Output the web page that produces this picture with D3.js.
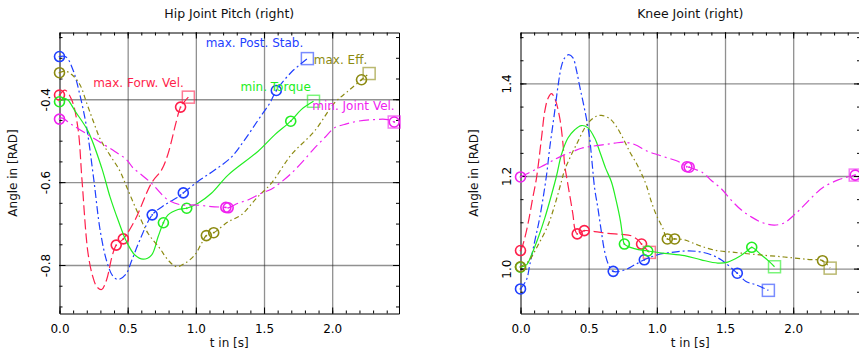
<!DOCTYPE html>
<html>
<head>
<meta charset="utf-8">
<script src="https://cdn.jsdelivr.net/npm/d3@7"></script>
<style>
body { margin: 0; background: #fff; }
text { font-family: "DejaVu Sans", sans-serif; }
</style>
</head>
<body>
<div id="chart"></div>
<script>
//tick labels for both panels
var timeTicks = [0.0, 0.5, 1.0, 1.5, 2.0];
var hipTicks = [-0.8, -0.6, -0.4];
var kneeTicks = [1.0, 1.2, 1.4];

var seriesNames = ["max. Forw. Vel.", "max. Post. Stab.", "min. Torque", "max. Eff.", "min. Joint Vel."];

//times of the circle markers (start, two mid phases, last) for each series
var forwVelMarks = [0, 0.416, 0.468, 0.888];
var postStabMarks = [0, 0.68, 0.908, 1.59];
var torqueMarks = [0, 0.762, 0.933, 1.696];
var effMarks = [0, 1.077, 1.131, 2.215];
var jointVelMarks = [0, 1.22, 1.237, 2.455];

//hip joint pitch, [t, angle]
var hipForwVel = [[0,-0.390],[0.04,-0.378],[0.09,-0.402],[0.135,-0.469],[0.165,-0.595],[0.209,-0.771],[0.245,-0.829],[0.275,-0.853],[0.309,-0.859],[0.345,-0.836],[0.384,-0.781],[0.416,-0.752],[0.468,-0.737],[0.553,-0.692],[0.675,-0.602],[0.748,-0.571],[0.794,-0.534],[0.858,-0.452],[0.888,-0.419],[0.945,-0.395]];
var hipPostStab = [[0,-0.297],[0.048,-0.298],[0.1,-0.33],[0.15,-0.39],[0.2,-0.47],[0.25,-0.59],[0.3,-0.72],[0.35,-0.795],[0.39,-0.826],[0.43,-0.835],[0.487,-0.822],[0.531,-0.788],[0.589,-0.74],[0.68,-0.679],[0.772,-0.655],[0.86,-0.638],[0.908,-0.626],[1.029,-0.595],[1.138,-0.571],[1.263,-0.539],[1.358,-0.498],[1.482,-0.438],[1.54,-0.411],[1.59,-0.379],[1.7,-0.335],[1.818,-0.302]];
var hipTorque = [[0,-0.406],[0.033,-0.398],[0.062,-0.402],[0.113,-0.428],[0.209,-0.477],[0.309,-0.565],[0.37,-0.635],[0.43,-0.692],[0.492,-0.744],[0.553,-0.776],[0.613,-0.786],[0.675,-0.776],[0.723,-0.732],[0.762,-0.698],[0.796,-0.679],[0.87,-0.666],[0.933,-0.663],[1.016,-0.651],[1.114,-0.627],[1.236,-0.583],[1.455,-0.526],[1.578,-0.486],[1.696,-0.453],[1.773,-0.425],[1.863,-0.405]];
var hipEff = [[0,-0.336],[0.04,-0.332],[0.092,-0.341],[0.15,-0.365],[0.2,-0.41],[0.25,-0.455],[0.3,-0.497],[0.37,-0.535],[0.443,-0.573],[0.492,-0.611],[0.565,-0.667],[0.65,-0.724],[0.736,-0.76],[0.796,-0.788],[0.858,-0.804],[0.919,-0.796],[0.992,-0.776],[1.041,-0.748],[1.077,-0.729],[1.131,-0.722],[1.236,-0.696],[1.334,-0.679],[1.444,-0.639],[1.553,-0.603],[1.7,-0.534],[1.87,-0.477],[2.017,-0.409],[2.114,-0.381],[2.215,-0.353],[2.271,-0.338]];
var hipJointVel = [[0,-0.448],[0.016,-0.445],[0.089,-0.461],[0.211,-0.486],[0.284,-0.501],[0.406,-0.526],[0.492,-0.546],[0.54,-0.566],[0.589,-0.579],[0.675,-0.603],[0.796,-0.643],[0.895,-0.655],[0.992,-0.655],[1.114,-0.659],[1.22,-0.661],[1.237,-0.662],[1.309,-0.651],[1.382,-0.643],[1.48,-0.627],[1.553,-0.617],[1.614,-0.603],[1.7,-0.579],[1.785,-0.55],[1.87,-0.518],[1.944,-0.493],[2.017,-0.469],[2.09,-0.461],[2.187,-0.453],[2.31,-0.449],[2.407,-0.449],[2.455,-0.455]];

//knee joint, [t, angle]
var kneeForwVel = [[0,1.039],[0.017,1.051],[0.053,1.094],[0.09,1.153],[0.117,1.195],[0.154,1.282],[0.178,1.34],[0.202,1.368],[0.227,1.378],[0.251,1.368],[0.288,1.325],[0.312,1.268],[0.324,1.224],[0.348,1.181],[0.385,1.116],[0.398,1.087],[0.416,1.075],[0.468,1.082],[0.544,1.08],[0.641,1.076],[0.739,1.074],[0.813,1.071],[0.861,1.062],[0.888,1.053],[0.945,1.035]];
var kneePostStab = [[0,0.956],[0.044,0.976],[0.068,1.008],[0.105,1.06],[0.141,1.11],[0.19,1.2],[0.214,1.26],[0.251,1.34],[0.275,1.394],[0.3,1.437],[0.324,1.455],[0.354,1.462],[0.385,1.455],[0.41,1.429],[0.434,1.394],[0.458,1.361],[0.483,1.325],[0.507,1.282],[0.524,1.232],[0.544,1.173],[0.568,1.13],[0.593,1.08],[0.617,1.037],[0.646,1.008],[0.68,0.994],[0.763,0.997],[0.836,1.008],[0.908,1.019],[1.007,1.03],[1.105,1.035],[1.203,1.038],[1.3,1.037],[1.398,1.03],[1.471,1.019],[1.59,0.99],[1.654,0.972],[1.728,0.965],[1.818,0.953]];
var kneeTorque = [[0,1.003],[0.044,1.008],[0.081,1.03],[0.129,1.066],[0.178,1.109],[0.227,1.159],[0.264,1.2],[0.3,1.246],[0.348,1.282],[0.398,1.3],[0.447,1.309],[0.495,1.304],[0.544,1.282],[0.581,1.253],[0.624,1.217],[0.666,1.188],[0.703,1.145],[0.734,1.101],[0.751,1.066],[0.762,1.053],[0.836,1.043],[0.933,1.038],[1.056,1.033],[1.203,1.028],[1.325,1.019],[1.447,1.012],[1.52,1.014],[1.605,1.026],[1.666,1.039],[1.696,1.046],[1.764,1.03],[1.825,1.015],[1.863,1.004]];
var kneeEff = [[0,1.004],[0.056,1.015],[0.129,1.051],[0.202,1.094],[0.251,1.137],[0.3,1.188],[0.324,1.213],[0.373,1.246],[0.422,1.275],[0.471,1.304],[0.507,1.318],[0.556,1.329],[0.593,1.331],[0.654,1.324],[0.703,1.307],[0.751,1.282],[0.8,1.253],[0.849,1.228],[0.886,1.206],[0.922,1.181],[0.959,1.145],[0.996,1.116],[1.044,1.087],[1.077,1.064],[1.131,1.064],[1.203,1.062],[1.3,1.051],[1.422,1.04],[1.569,1.035],[1.739,1.03],[1.935,1.025],[2.105,1.02],[2.215,1.017],[2.271,1.001]];
var kneeJointVel = [[0,1.198],[0.056,1.206],[0.129,1.217],[0.178,1.224],[0.227,1.232],[0.3,1.243],[0.385,1.253],[0.447,1.26],[0.52,1.264],[0.617,1.268],[0.69,1.271],[0.764,1.273],[0.837,1.268],[0.934,1.253],[1.007,1.246],[1.08,1.239],[1.154,1.232],[1.22,1.22],[1.237,1.219],[1.337,1.207],[1.398,1.191],[1.471,1.173],[1.545,1.148],[1.618,1.127],[1.691,1.112],[1.776,1.099],[1.862,1.094],[1.935,1.099],[2.008,1.116],[2.081,1.137],[2.154,1.159],[2.228,1.177],[2.325,1.191],[2.398,1.198],[2.455,1.202]];

//colours and dash patterns of the five strategies
var colors = ["#ff1f4b", "#1f3fff", "#22ee22", "#8c8a10", "#ef22ef"];
var dashes = ["10,4", "8,3,2,3", null, "5,3,1.5,3", "10,4,2,4"];

//where the names are written inside the hip panel (data units)
var labelAnchors = [[0.247,-0.37],[1.072,-0.274],[1.328,-0.379],[1.865,-0.314],[1.854,-0.425]];

var series = [
	{hip: hipForwVel, knee: kneeForwVel, marks: forwVelMarks},
	{hip: hipPostStab, knee: kneePostStab, marks: postStabMarks},
	{hip: hipTorque, knee: kneeTorque, marks: torqueMarks},
	{hip: hipEff, knee: kneeEff, marks: effMarks},
	{hip: hipJointVel, knee: kneeJointVel, marks: jointVelMarks}
];

var w = 859,
    h = 354;

var plotTop = 32.5,
    plotBottom = 313.5,
    pw = 339.5;

var svg = d3.select("#chart").append("svg")
    .attr("width", w)
    .attr("height", h);

function drawPanel(x0, title, key, yDomain, yTicks, yMinor, withLabels) {
	var x = d3.scaleLinear().domain([0, 2.49]).range([x0, x0 + pw]);
	var y = d3.scaleLinear().domain(yDomain).range([plotBottom, plotTop]);
	var g = svg.append("g");

	//grid lines at the major ticks
	var grid = g.append("g");
	grid.append("g")
		.attr("transform", "translate(0," + plotBottom + ")")
		.call(d3.axisBottom(x).tickValues(timeTicks.slice(1)).tickSize(-(plotBottom - plotTop)).tickFormat(""))
		.call(function(s) { s.select(".domain").remove(); });
	grid.append("g")
		.attr("transform", "translate(" + x0 + ",0)")
		.call(d3.axisLeft(y).tickValues(yTicks).tickSize(-pw).tickFormat(""))
		.call(function(s) { s.select(".domain").remove(); });
	grid.selectAll(".tick line")
		.attr("stroke", "#222")
		.attr("stroke-width", 1.3)
		.attr("stroke-dasharray", "1,1");

	//minor ticks, all four sides, pointing in
	var xMinor = d3.range(0, 2.49, 0.1);
	var minor = [
		[d3.axisBottom(x).tickValues(xMinor), "translate(0," + plotBottom + ")"],
		[d3.axisTop(x).tickValues(xMinor), "translate(0," + plotTop + ")"],
		[d3.axisLeft(y).tickValues(yMinor), "translate(" + x0 + ",0)"],
		[d3.axisRight(y).tickValues(yMinor), "translate(" + (x0 + pw) + ",0)"]
	];
	minor.forEach(function(m) {
		g.append("g")
			.attr("transform", m[1])
			.call(m[0].tickSizeInner(-3).tickSizeOuter(0).tickFormat(""))
			.call(function(s) { s.select(".domain").remove(); });
	});

	//major ticks with labels and the frame
	var xb = g.append("g")
		.attr("transform", "translate(0," + plotBottom + ")")
		.call(d3.axisBottom(x).tickValues(timeTicks).tickSizeInner(-6).tickSizeOuter(0).tickPadding(11).tickFormat(d3.format(".1f")));
	g.append("g")
		.attr("transform", "translate(0," + plotTop + ")")
		.call(d3.axisTop(x).tickValues(timeTicks).tickSizeInner(-6).tickSizeOuter(0).tickFormat(""));
	var yl = g.append("g")
		.attr("transform", "translate(" + x0 + ",0)")
		.call(d3.axisLeft(y).tickValues(yTicks).tickSizeInner(-6).tickSizeOuter(0).tickFormat(d3.format(".1f")));
	g.append("g")
		.attr("transform", "translate(" + (x0 + pw) + ",0)")
		.call(d3.axisRight(y).tickValues(yTicks).tickSizeInner(-6).tickSizeOuter(0).tickFormat(""));

	g.selectAll(".domain").attr("stroke", "#000").attr("stroke-width", 1);
	xb.selectAll("text")
		.attr("font-size", 12)
		.attr("fill", "#000");
	yl.selectAll("text")
		.attr("font-size", 12)
		.attr("fill", "#000")
		.attr("text-anchor", "middle")
		.attr("transform", "rotate(-90)")
		.attr("x", 0)
		.attr("y", -9.5)
		.attr("dy", 0)
		.text(function(d) { return d3.format(".1f")(d).replace("\u2212", "-"); });

	//titles
	g.append("text")
		.text(title)
		.attr("x", x0 + pw / 2)
		.attr("y", 18)
		.attr("text-anchor", "middle")
		.attr("font-size", 12.5)
		.attr("fill", "#111");
	g.append("text")
		.text("t in [s]")
		.attr("x", x0 + pw / 2)
		.attr("y", 347)
		.attr("text-anchor", "middle")
		.attr("font-size", 12)
		.attr("fill", "#111");
	g.append("text")
		.text("Angle in [RAD]")
		.attr("transform", "translate(" + (x0 - 43) + "," + ((plotTop + plotBottom) / 2) + ") rotate(-90)")
		.attr("text-anchor", "middle")
		.attr("font-size", 12)
		.attr("fill", "#111");

	var line = d3.line()
		.x(function(d) { return x(d[0]); })
		.y(function(d) { return y(d[1]); })
		.curve(d3.curveCatmullRom.alpha(0.5));

	series.forEach(function(s, i) {
		var pts = s[key];
		g.append("path")
			.datum(pts)
			.attr("d", line)
			.attr("fill", "none")
			.attr("stroke", colors[i])
			.attr("stroke-width", 1.2)
			.attr("stroke-dasharray", dashes[i]);

		//circles at the phase changes
		var marks = s.marks.map(function(t) { return pts.find(function(p) { return p[0] === t; }); });
		g.selectAll(null)
			.data(marks)
			.enter().append("circle")
			.attr("cx", function(d) { return x(d[0]); })
			.attr("cy", function(d) { return y(d[1]); })
			.attr("r", 5)
			.attr("fill", "none")
			.attr("stroke", colors[i])
			.attr("stroke-width", 1.6);
		g.selectAll(null)
			.data(marks)
			.enter().append("circle")
			.attr("cx", function(d) { return x(d[0]); })
			.attr("cy", function(d) { return y(d[1]); })
			.attr("r", 0.9)
			.attr("fill", colors[i]);

		//square at the final state
		var last = pts[pts.length - 1];
		g.append("rect")
			.attr("x", x(last[0]) - 6)
			.attr("y", y(last[1]) - 6)
			.attr("width", 12)
			.attr("height", 12)
			.attr("fill", "none")
			.attr("stroke", colors[i])
			.attr("stroke-opacity", 0.6)
			.attr("stroke-width", 1.5);

		if (withLabels) {
			g.append("text")
				.text(seriesNames[i])
				.attr("x", x(labelAnchors[i][0]))
				.attr("y", y(labelAnchors[i][1]))
				.attr("font-size", 12)
				.attr("fill", colors[i]);
		}
	});
}

drawPanel(59.5, "Hip Joint Pitch (right)", "hip", [-0.917, -0.239], hipTicks, d3.range(-0.9, -0.24, 0.05), true);
drawPanel(520.5, "Knee Joint (right)", "knee", [0.903, 1.51], kneeTicks, d3.range(0.95, 1.51, 0.05), false);
</script>
</body>
</html>
